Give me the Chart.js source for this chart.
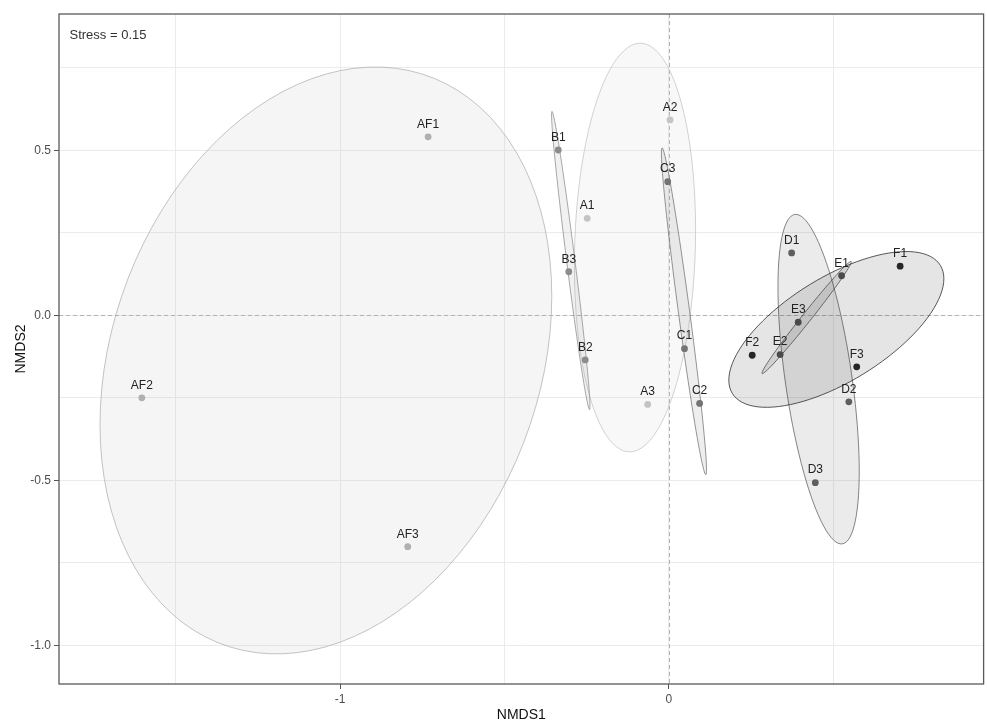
<!DOCTYPE html>
<html><head><meta charset="utf-8">
<script src="https://cdn.jsdelivr.net/npm/chart.js@4.4.0/dist/chart.umd.min.js"></script>
<style>html,body{margin:0;padding:0;background:#fff;overflow:hidden}canvas{display:block}</style>
</head><body><canvas id="c" width="987" height="722"></canvas>
<script>
// ---- data ----
const sampleNames  = ['A1','A2','A3','AF1','AF2','AF3','B1','B2','B3','C1','C2','C3','D1','D2','D3','E1','E2','E3','F1','F2','F3'];
const sampleGroups = ['A','A','A','AF','AF','AF','B','B','B','C','C','C','D','D','D','E','E','E','F','F','F'];
const nmds1 = [-0.248, 0.004,-0.064, -0.732,-1.603,-0.794, -0.336,-0.254,-0.304, 0.048, 0.094,-0.003, 0.374, 0.548, 0.446, 0.526, 0.339, 0.394, 0.704, 0.254, 0.572];
const nmds2 = [ 0.294, 0.592,-0.270,  0.541,-0.250,-0.701,  0.501,-0.135, 0.132,-0.101,-0.267, 0.405, 0.189,-0.262,-0.507, 0.120,-0.119,-0.021, 0.149,-0.121,-0.156];
const groupNames  = ['A','AF','B','C','D','E','F'];
const groupColors = ['#c4c4c4','#b0b0b0','#8c8c8c','#747474','#5e5e5e','#4a4a4a','#262626'];
const xMajorTicks = [-1, 0];
const xMinorTicks = [-1.5, -0.5, 0.5];
const yMajorTicks = [-1.0, -0.5, 0.0, 0.5];
const yMinorTicks = [-0.75, -0.25, 0.25, 0.75];
const stressLabel = 'Stress = 0.15';
const ellipseLevel = 0.5;

// ---- helpers ----
function hexA(hex, a){const n=parseInt(hex.slice(1),16);return `rgba(${n>>16&255},${n>>8&255},${n&255},${a})`;}
function groupIdx(g){return sampleGroups.map((s,i)=>s===g?i:-1).filter(i=>i>=0);}

const datasets = groupNames.map((g,gi)=>({
  label:g,
  data: groupIdx(g).map(i=>({x:nmds1[i], y:nmds2[i], name:sampleNames[i]})),
  backgroundColor: groupColors[gi],
  borderWidth:0,
  pointRadius:3.4,
  pointHoverRadius:3.4
}));

function ellipseOutline(g){
  const idx = groupIdx(g); const n = idx.length;
  const xs = idx.map(i=>nmds1[i]), ys = idx.map(i=>nmds2[i]);
  const mx = xs.reduce((a,b)=>a+b,0)/n, my = ys.reduce((a,b)=>a+b,0)/n;
  let a=0,b=0,c=0;
  for(let k=0;k<n;k++){const dx=xs[k]-mx, dy=ys[k]-my; a+=dx*dx; b+=dx*dy; c+=dy*dy;}
  a/=(n-1); b/=(n-1); c/=(n-1);
  // F quantile with (2, 2) df: p/(1-p)
  const radius = Math.sqrt(2 * (ellipseLevel/(1-ellipseLevel)));
  const r11=Math.sqrt(a), r12=b/r11, r22=Math.sqrt(Math.max(c-r12*r12,0));
  const pts=[];
  for(let k=0;k<=100;k++){
    const t=2*Math.PI*k/100, ct=Math.cos(t), st=Math.sin(t);
    pts.push({x: mx + radius*(ct*r11), y: my + radius*(ct*r12 + st*r22)});
  }
  return pts;
}

const nmdsPlugin = {
  id:'nmds',
  beforeDatasetsDraw(chart){
    const {ctx, chartArea:ca, scales:{x,y}} = chart;
    ctx.save();
    ctx.beginPath(); ctx.rect(ca.left, ca.top, ca.right-ca.left, ca.bottom-ca.top); ctx.clip();
    // zero reference lines
    ctx.strokeStyle='#b3b3b3'; ctx.lineWidth=1; ctx.setLineDash([4,3]);
    const x0=Math.round(x.getPixelForValue(0))+0.5, y0=Math.round(y.getPixelForValue(0))+0.5;
    ctx.beginPath(); ctx.moveTo(x0,ca.top); ctx.lineTo(x0,ca.bottom); ctx.stroke();
    ctx.beginPath(); ctx.moveTo(ca.left,y0); ctx.lineTo(ca.right,y0); ctx.stroke();
    ctx.setLineDash([]);
    // ellipses
    groupNames.forEach((g,gi)=>{
      const pts = ellipseOutline(g);
      ctx.beginPath();
      pts.forEach((p,k)=>{const px=x.getPixelForValue(p.x), py=y.getPixelForValue(p.y); k?ctx.lineTo(px,py):ctx.moveTo(px,py);});
      ctx.closePath();
      ctx.fillStyle = hexA(groupColors[gi], 0.12); ctx.fill();
      ctx.strokeStyle = hexA(groupColors[gi], 0.85); ctx.lineWidth = 0.9; ctx.stroke();
    });
    ctx.restore();
  },
  afterDatasetsDraw(chart){
    const {ctx, chartArea:ca, scales:{x,y}} = chart;
    ctx.save();
    ctx.font = '12px "Liberation Sans", Arial, sans-serif';
    ctx.fillStyle = '#222'; ctx.textAlign='center'; ctx.textBaseline='middle';
    sampleNames.forEach((s,i)=>{
      ctx.fillText(s, x.getPixelForValue(nmds1[i]), y.getPixelForValue(nmds2[i]) - 12.5);
    });
    ctx.font = '13px "Liberation Sans", Arial, sans-serif';
    ctx.fillStyle = '#333'; ctx.textAlign='left';
    ctx.fillText(stressLabel, ca.left + 10.5, ca.top + 21);
    // panel frame
    ctx.strokeStyle = '#5a5a5a'; ctx.lineWidth = 1.3;
    ctx.strokeRect(ca.left, ca.top, ca.right-ca.left, ca.bottom-ca.top);
    ctx.restore();
  }
};

const gridColor = '#ebebeb';
new Chart(document.getElementById('c'), {
  type:'scatter',
  data:{datasets},
  plugins:[nmdsPlugin],
  options:{
    responsive:false, maintainAspectRatio:false, animation:false, devicePixelRatio:1,
    layout:{padding:{left:0,right:1,top:14,bottom:0}},
    plugins:{legend:{display:false}, tooltip:{enabled:false}},
    events:[],
    scales:{
      x:{
        type:'linear', min:-1.855, max:0.958,
        afterBuildTicks(s){ s.ticks = xMinorTicks.concat(xMajorTicks).sort((a,b)=>a-b).map(v=>({value:v})); },
        afterFit(s){ s.height = 38; s.paddingRight = 0; s.paddingLeft = 0; },
        ticks:{ autoSkip:false, maxRotation:0, padding:3, color:'#4d4d4d',
          font:{family:'"Liberation Sans", Arial, sans-serif', size:12},
          callback:(v)=> xMajorTicks.includes(v) ? String(v) : '' },
        grid:{ color:gridColor, lineWidth:1, tickLength:5,
          tickColor:(c)=> xMajorTicks.includes(c.tick && c.tick.value) ? '#555' : 'rgba(0,0,0,0)' },
        border:{display:false},
        title:{display:true, text:'NMDS1', color:'#111', padding:{top:0,bottom:-2},
          font:{family:'"Liberation Sans", Arial, sans-serif', size:14}}
      },
      y:{
        type:'linear', min:-1.117, max:0.913,
        afterBuildTicks(s){ s.ticks = yMinorTicks.concat(yMajorTicks).sort((a,b)=>a-b).map(v=>({value:v})); },
        afterFit(s){ s.width = 59; s.paddingTop = 0; s.paddingBottom = 0; },
        ticks:{ autoSkip:false, padding:3, color:'#4d4d4d',
          font:{family:'"Liberation Sans", Arial, sans-serif', size:12},
          callback:(v)=> yMajorTicks.includes(v) ? v.toFixed(1) : '' },
        grid:{ color:gridColor, lineWidth:1, tickLength:5,
          tickColor:(c)=> yMajorTicks.includes(c.tick && c.tick.value) ? '#555' : 'rgba(0,0,0,0)' },
        border:{display:false},
        title:{display:true, text:'NMDS2', color:'#111', padding:{top:13,bottom:0},
          font:{family:'"Liberation Sans", Arial, sans-serif', size:14}}
      }
    }
  }
});
</script></body></html>
